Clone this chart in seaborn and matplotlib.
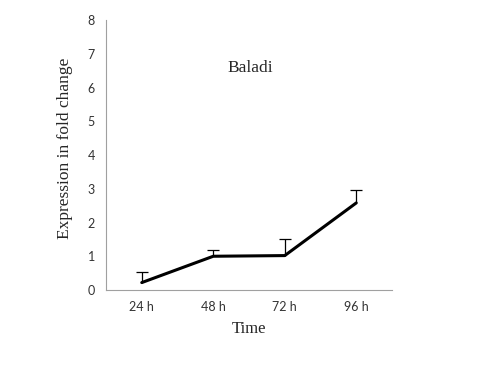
import matplotlib
matplotlib.use("Agg")
import matplotlib.pyplot as plt
import seaborn as sns
import pandas as pd

# data
times = ["24 h", "48 h", "72 h", "96 h"]
fold_change = [0.22, 1.0, 1.02, 2.58]
err_upper = [0.32, 0.18, 0.50, 0.39]

sns.set_style("white")
plt.rcParams['font.family'] = ['Liberation Serif', 'DejaVu Serif']

df = pd.DataFrame({"pos": range(len(times)), "value": fold_change})

fig = plt.figure(figsize=(4.94, 3.78), dpi=100)
ax = fig.add_axes([0.2146, 0.2328, 0.5789, 0.7142])

# one-sided (upper) error bars, hide the lower caps
eb = ax.errorbar(df["pos"], df["value"], yerr=[[0] * len(times), err_upper],
                 fmt="none", ecolor="black", elinewidth=0.9, capsize=4, capthick=0.9)
eb[1][0].set_visible(False)
sns.lineplot(data=df, x="pos", y="value", color="black", linewidth=2.2, ax=ax)

ax.set_xlim(-0.5, len(times) - 0.5)
ax.set_ylim(0, 8)
ax.set_yticks(range(0, 9))

# ticks at category boundaries, labels in the middle
ax.set_xticks([i - 0.5 for i in range(len(times) + 1)])
ax.set_xticklabels([])
ax.set_xticks(range(len(times)), minor=True)
ax.set_xticklabels(times, minor=True, family=['Lato', 'DejaVu Sans'], fontsize=9, color="#333333")
ax.tick_params(axis="x", which="minor", length=0, pad=8)
ax.tick_params(axis="x", which="major", length=4, color="#a0a0a0", width=0.8, direction="out")
ax.tick_params(axis="y", length=4, color="#a0a0a0", width=0.8, direction="out", pad=4)
for lbl in ax.get_yticklabels():
    lbl.set_family(['Lato', 'DejaVu Sans'])
    lbl.set_fontsize(9)
    lbl.set_color("#333333")

for side in ["top", "right"]:
    ax.spines[side].set_visible(False)
for side in ["left", "bottom"]:
    ax.spines[side].set_color("#a0a0a0")
    ax.spines[side].set_linewidth(0.8)

ax.set_xlabel("Time", fontsize=12, labelpad=6)
ax.set_ylabel("Expression in fold change", fontsize=12.5)
ax.yaxis.set_label_coords(-0.117, 0.526)
ax.text(1.52, 6.58, "Baladi", fontsize=12.5, ha="center", va="center")

fig.savefig("out.png", dpi=100)
